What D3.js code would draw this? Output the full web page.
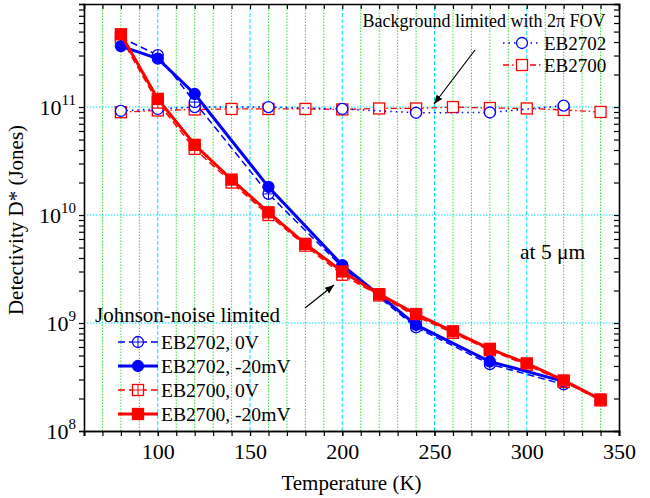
<!DOCTYPE html>
<head>
  <meta charset="utf-8">
  <title>Detectivity vs temperature</title>
  <style>
    body { margin: 0; background: #fff; }
    text { font-family: "Liberation Serif", "Times New Roman", serif; }
  </style>
</head>
<body>
  <div id="chart"></div>
  <script src="https://cdn.jsdelivr.net/npm/d3@7/dist/d3.min.js"></script>
  <script>
    // temperatures (K)
    var tempA = [80, 100, 120, 160, 200, 240, 280, 320];
    var tempB = [80, 100, 120, 140, 160, 180, 200, 220, 240, 260, 280, 300, 320, 340];

    // Johnson-noise limited D* (Jones)
    var eb2702_0v   = [4.4e11, 3.03e11, 1.11e11, 1.57e10, 3.3e9, 9.1e8, 4.16e8, 2.7e8];
    var eb2702_20mv = [3.67e11, 2.81e11, 1.32e11, 1.82e10, 3.44e9, 9.6e8, 4.4e8, 2.88e8];
    var eb2700_0v   = [4.4e11, 1.1e11, 4.1e10, 2.0e10, 1.0e10, 5.2e9, 2.8e9, 1.8e9, 1.15e9, 8.1e8, 5.6e8, 4.1e8, 2.85e8, 1.92e8];
    var eb2700_20mv = [4.72e11, 1.19e11, 4.47e10, 2.13e10, 1.06e10, 5.41e9, 3.0e9, 1.85e9, 1.21e9, 8.38e8, 5.77e8, 4.23e8, 2.94e8, 1.96e8];

    // background limited with 2pi FOV
    var bg2702 = [9.2e10, 9.6e10, 1.0e11, 1.0e11, 9.6e10, 8.85e10, 8.9e10, 1.03e11];
    var bg2700 = [8.96e10, 9.3e10, 9.5e10, 9.6e10, 9.6e10, 9.6e10, 9.5e10, 9.7e10, 9.7e10, 1.0e11, 9.8e10, 9.7e10, 9.4e10, 9.0e10];

    var xTicks = [100, 150, 200, 250, 300, 350];
    var yDecades = [8, 9, 10, 11];

    var W = 650, H = 498;
    var m = {left: 84, right: 31, top: 4, bottom: 67};
    var serif = "Liberation Serif";

    var svg = d3.select("#chart").append("svg")
      .attr("width", W)
      .attr("height", H)
      .attr("font-family", serif);

    var x = d3.scaleLinear().domain([60, 350]).range([m.left, W - m.right]);
    var y = d3.scaleLog().domain([1e8, 9e11]).range([H - m.bottom, m.top]);

    var blue = "#0000ff", red = "#ff0000";
    var green = "#33e033", cyan = "#00e0f0";

    // grid
    var grid = svg.append("g");
    d3.range(70, 350, 10).forEach(function (t) {
      var major = t % 50 == 0;
      grid.append("line")
        .attr("x1", x(t)).attr("x2", x(t))
        .attr("y1", y.range()[0]).attr("y2", y.range()[1])
        .attr("stroke", major ? cyan : green)
        .attr("stroke-width", 1)
        .attr("stroke-dasharray", major ? "4,2" : "1.5,1.5");
    });
    [1e9, 1e10, 1e11].forEach(function (v) {
      grid.append("line")
        .attr("x1", x.range()[0]).attr("x2", x.range()[1])
        .attr("y1", y(v)).attr("y2", y(v))
        .attr("stroke", cyan)
        .attr("stroke-dasharray", "1.5,1.5");
    });

    // axes
    var minorX = d3.range(60, 351, 10);
    var logTicks = [];
    yDecades.forEach(function (d) {
      for (var k = 1; k < 10; k++) {
        var v = k * Math.pow(10, d);
        if (v <= 9e11) logTicks.push(v);
      }
    });

    svg.append("g").attr("transform", "translate(0," + y.range()[0] + ")")
      .call(d3.axisBottom(x).tickValues(minorX).tickSize(5).tickFormat(""));
    svg.append("g").attr("transform", "translate(0," + y.range()[0] + ")")
      .call(d3.axisBottom(x).tickValues(xTicks).tickSize(5).tickPadding(7).tickFormat(d3.format("d")))
      .call(g => g.selectAll("text").attr("font-size", 22).attr("font-family", serif).attr("fill", "#000"));
    svg.append("g").attr("transform", "translate(0," + y.range()[1] + ")")
      .call(d3.axisBottom(x).tickValues(minorX).tickSize(5).tickFormat(""));

    svg.append("g").attr("transform", "translate(" + x.range()[0] + ",0)")
      .call(d3.axisLeft(y).tickValues(logTicks).tickSize(5).tickFormat(""));
    svg.append("g").attr("transform", "translate(" + x.range()[1] + ",0)")
      .call(d3.axisLeft(y).tickValues(logTicks).tickSize(5).tickFormat(""));

    svg.selectAll(".domain").attr("stroke", "#000").attr("stroke-width", 1.6);
    svg.selectAll(".tick line").attr("stroke", "#000").attr("stroke-width", 1.2);

    // y tick labels 10^n
    yDecades.forEach(function (d) {
      var t = svg.append("text")
        .attr("x", x.range()[0] - 8)
        .attr("y", y(Math.pow(10, d)) + 8)
        .attr("text-anchor", "end")
        .attr("font-size", 22);
      t.append("tspan").text("10");
      t.append("tspan").attr("dy", -10).attr("font-size", 15).text(d);
    });

    // axis titles
    svg.append("text")
      .attr("x", (x.range()[0] + x.range()[1]) / 2)
      .attr("y", 490)
      .attr("text-anchor", "middle")
      .attr("font-size", 21)
      .text("Temperature (K)");
    svg.append("text")
      .attr("transform", "translate(23," + 220 + ") rotate(-90)")
      .attr("text-anchor", "middle")
      .attr("font-size", 21)
      .text("Detectivity D* (Jones)");

    // markers
    function marker(g, type, cx, cy, color) {
      if (type == "circle" || type == "circlePlus" || type == "filledCircle") {
        g.append("circle").attr("cx", cx).attr("cy", cy).attr("r", 5.5)
          .attr("fill", type == "filledCircle" ? color : "#fff")
          .attr("stroke", color).attr("stroke-width", 1.3);
      } else {
        g.append("rect").attr("x", cx - 5.5).attr("y", cy - 5.5).attr("width", 11).attr("height", 11)
          .attr("fill", type == "filledSquare" ? color : "#fff")
          .attr("stroke", color).attr("stroke-width", 1.3);
      }
      if (type == "circlePlus" || type == "squarePlus") {
        g.append("path").attr("d", "M" + (cx - 5.5) + "," + cy + "h11M" + cx + "," + (cy - 5.5) + "v11")
          .attr("stroke", color).attr("stroke-width", 1);
      }
    }

    var series = [
      {t: tempB, v: bg2700, color: red, w: 1.3, dash: "6,3,1.5,3", mk: "square"},
      {t: tempA, v: bg2702, color: blue, w: 1.5, dash: "1.5,4", mk: "circle"},
      {t: tempA, v: eb2702_0v, color: blue, w: 1.5, dash: "7,4", mk: "circlePlus"},
      {t: tempB, v: eb2700_0v, color: red, w: 1.5, dash: "7,4", mk: "squarePlus"},
      {t: tempA, v: eb2702_20mv, color: blue, w: 3, dash: null, mk: "filledCircle"},
      {t: tempB, v: eb2700_20mv, color: red, w: 3, dash: null, mk: "filledSquare"}
    ];

    var line = d3.line().x(d => x(d[0])).y(d => y(d[1]));
    series.forEach(function (s) {
      var pts = s.t.map((t, i) => [t, s.v[i]]);
      var g = svg.append("g");
      g.append("path").attr("d", line(pts))
        .attr("fill", "none").attr("stroke", s.color).attr("stroke-width", s.w)
        .attr("stroke-dasharray", s.dash);
      pts.forEach(p => marker(g, s.mk, x(p[0]), y(p[1]), s.color));
    });

    // legends
    function legendRow(x0, x1, cy, s, label, fs) {
      var g = svg.append("g");
      g.append("line").attr("x1", x0).attr("x2", x1).attr("y1", cy).attr("y2", cy)
        .attr("stroke", s.color).attr("stroke-width", s.w).attr("stroke-dasharray", s.dash);
      marker(g, s.mk, (x0 + x1) / 2, cy, s.color);
      g.append("text").attr("x", x1 + 3).attr("y", cy + 7).attr("font-size", fs).text(label);
    }

    svg.append("text").attr("x", 484).attr("y", 27).attr("text-anchor", "middle")
      .attr("font-size", 18).text("Background limited with 2\u03c0 FOV");
    legendRow(503, 541, 43, series[1], "EB2702", 19);
    legendRow(503, 541, 65, series[0], "EB2700", 19);

    svg.append("text").attr("x", 95).attr("y", 322).attr("font-size", 21).text("Johnson-noise limited");
    legendRow(118, 158, 342, series[2], "EB2702, 0V", 19.6);
    legendRow(118, 158, 366, series[4], "EB2702, -20mV", 19.6);
    legendRow(118, 158, 390, series[3], "EB2700, 0V", 19.6);
    legendRow(118, 158, 414, series[5], "EB2700, -20mV", 19.6);

    svg.append("text").attr("x", 520).attr("y", 259).attr("font-size", 21.5).text("at 5 \u03bcm");

    // arrows
    svg.append("defs").append("marker")
      .attr("id", "arr").attr("viewBox", "0 0 10 10").attr("refX", 10).attr("refY", 5)
      .attr("markerWidth", 9).attr("markerHeight", 9).attr("orient", "auto")
      .attr("markerUnits", "userSpaceOnUse")
      .append("path").attr("d", "M0,1 L10,5 L0,9 Z").attr("fill", "#000");
    svg.append("line").attr("x1", 475).attr("y1", 50).attr("x2", 434).attr("y2", 104)
      .attr("stroke", "#000").attr("stroke-width", 1.2).attr("marker-end", "url(#arr)");
    svg.append("line").attr("x1", 305).attr("y1", 308).attr("x2", 334).attr("y2", 285)
      .attr("stroke", "#000").attr("stroke-width", 1.2).attr("marker-end", "url(#arr)");
  </script>
</body>
